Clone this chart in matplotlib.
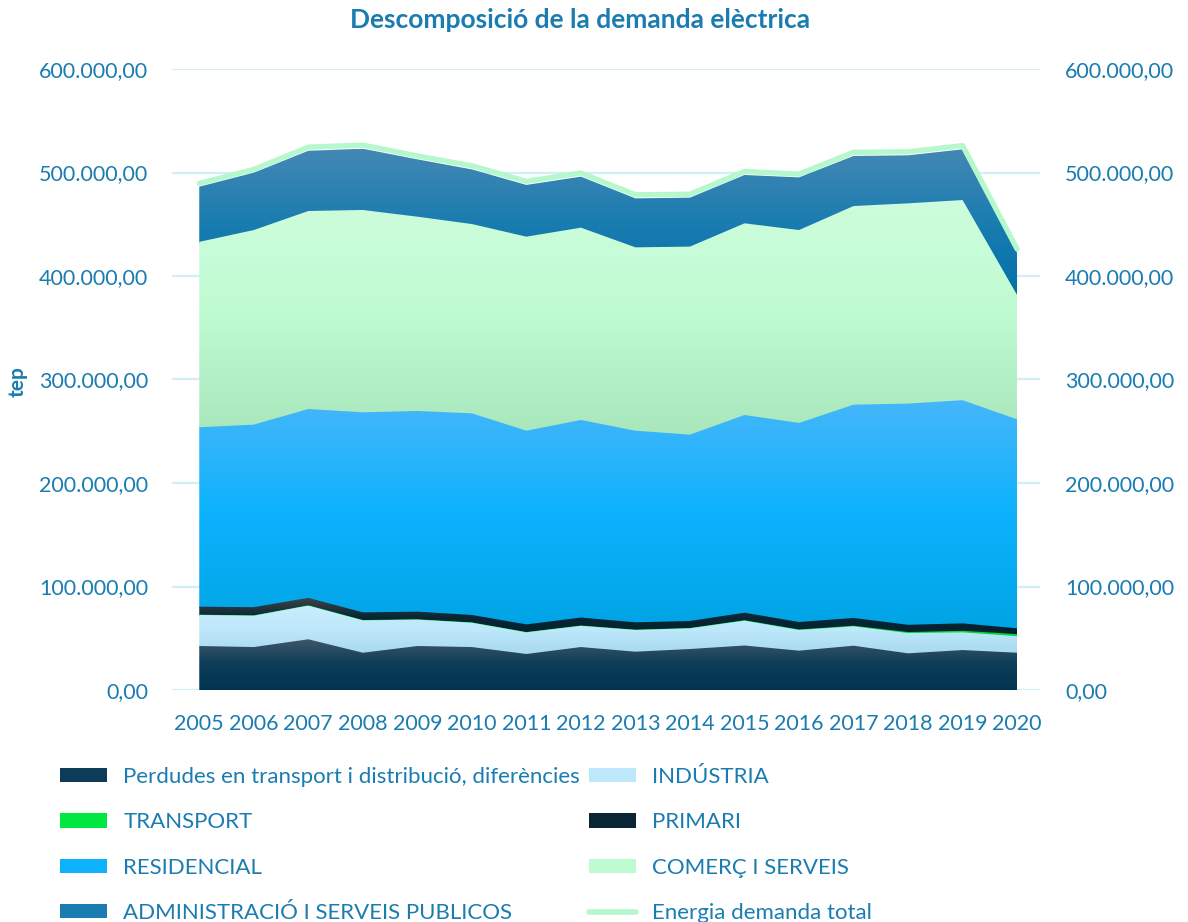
import numpy as np
import matplotlib
matplotlib.use("Agg")
import matplotlib.pyplot as plt
from matplotlib.colors import LinearSegmentedColormap
from matplotlib.patches import Patch
from matplotlib.lines import Line2D
from matplotlib.ticker import FuncFormatter

plt.rcParams['font.family'] = ['Lato', 'DejaVu Sans']

# ---------------------------------------------------------------------------
# data (tep)
years = [2005, 2006, 2007, 2008, 2009, 2010, 2011, 2012,
         2013, 2014, 2015, 2016, 2017, 2018, 2019, 2020]
perdudes = [42500, 41500, 49000, 36000, 42500, 41500, 34800, 41500,
            37000, 39600, 43000, 38000, 42800, 35400, 38600, 36000]
industria = [30000, 30300, 32500, 31300, 25500, 23500, 20900, 20500,
             21000, 20000, 24000, 20000, 18700, 19600, 17100, 16000]
transport = [300, 300, 300, 300, 300, 300, 300, 300,
             300, 300, 400, 500, 600, 1000, 1500, 2000]
primari = [7700, 7900, 7200, 7400, 7400, 7200, 7400, 7700,
           7100, 6800, 7300, 7200, 7500, 7000, 7200, 5600]
residencial = [173300, 176400, 182500, 193300, 193900, 194800, 187100, 190900,
               185100, 180000, 191000, 192300, 206100, 213700, 215600, 201900]
comerc = [179200, 188000, 191300, 195500, 187700, 182900, 187500, 185800,
          177200, 181700, 185200, 186400, 191900, 193500, 193400, 120100]
administracio = [53300, 55400, 58200, 59200, 55400, 52800, 50000, 49300,
                 47300, 47300, 46700, 50900, 48400, 46400, 49000, 40900]
total = [489500, 503000, 524500, 526500, 516000, 506500, 491500, 499500,
         478500, 479000, 501000, 498500, 519500, 520000, 526000, 426000]

labels = ["Perdudes en transport i distribució, diferències", "INDÚSTRIA",
          "TRANSPORT", "PRIMARI", "RESIDENCIAL", "COMERÇ I SERVEIS",
          "ADMINISTRACIÓ I SERVEIS PUBLICOS"]
# gradient colours (top, middle, bottom) per layer
grads = [["#3e566a", "#0c3c58", "#003550"],
         ["#c8eefd", "#bde7fa", "#a6d8ec"],
         ["#18f050", "#00e840", "#00d838"],
         ["#3c434b", "#0a2634", "#00202e"],
         ["#46b6fa", "#0cb2fd", "#00a4e4"],
         ["#cdfddc", "#bffbd2", "#a8e6bc"],
         ["#4488b4", "#1a7cb0", "#0070a8"]]
total_color = "#b4f8cc"
text_color = "#1a7cb0"
grid_color = "#d2eff9"

layers = [perdudes, industria, transport, primari, residencial, comerc, administracio]

# ---------------------------------------------------------------------------
fig = plt.figure(figsize=(11.88, 9.22), dpi=100)
ax = fig.add_axes([172 / 1188, 1 - 690 / 922, 868 / 1188, 621 / 922])

x = np.array(years, dtype=float)
tops = np.cumsum(np.array(layers, dtype=float), axis=0)
bots = np.vstack([np.zeros(len(x)), tops[:-1]])
n = len(layers)
overlap = 1500  # small overlap so no seams show between layers

for i in range(n):
    y0 = np.maximum(bots[i] - overlap, 0)
    y1 = tops[i]
    poly = ax.fill_between(x, y0, y1, color='none', lw=0)
    cmap = LinearSegmentedColormap.from_list('g%d' % i, grads[i][::-1])
    img = ax.imshow(np.linspace(0, 1, 256).reshape(-1, 1), cmap=cmap,
                    origin='lower', aspect='auto', interpolation='bilinear',
                    extent=(x[0], x[-1], y0.min(), y1.max()),
                    zorder=2 + (n - i) * 0.01)
    img.set_clip_path(poly.get_paths()[0], ax.transData)

ax.plot(x, total, color=total_color, lw=3.8, solid_capstyle='round', zorder=3)

ax.set_xlim(2004.5, 2020.42)
ax.set_ylim(0, 600000)
ax.set_yticks(np.arange(0, 600001, 100000))
ax.set_xticks(years)
fmt = FuncFormatter(lambda v, p: "{:,.2f}".format(v).replace(",", "X").replace(".", ",").replace("X", "."))
ax.yaxis.set_major_formatter(fmt)
ax.grid(axis='y', color=grid_color, lw=1.6, zorder=0)
ax.set_axisbelow(True)
for s in ax.spines.values():
    s.set_visible(False)
ax.tick_params(axis='both', length=0, labelsize=15.5, labelcolor=text_color)
ax.tick_params(axis='y', pad=17)
ax.tick_params(axis='x', pad=17)

ax2 = ax.twinx()
ax2.set_ylim(ax.get_ylim())
ax2.set_yticks(np.arange(0, 600001, 100000))
ax2.yaxis.set_major_formatter(fmt)
for s in ax2.spines.values():
    s.set_visible(False)
ax2.tick_params(axis='y', length=0, labelsize=15.5, labelcolor=text_color, pad=18)

fig.text(18 / 1188, 1 - 382 / 922, "tep", rotation=90, ha='center', va='center',
         fontsize=15, fontweight='bold', color=text_color)
fig.text(580 / 1188, 1 - 20 / 922, "Descomposició de la demanda elèctrica",
         ha='center', va='center', fontsize=19, fontweight='bold', color=text_color)

# legend, 2 columns filled row by row like the original
h = [Patch(facecolor=g[1], edgecolor='none') for g in grads]
h_total = Line2D([0], [0], color=total_color, lw=4, solid_capstyle='round')
order_h = [h[0], h[2], h[4], h[6], h[1], h[3], h[5], h_total]
order_l = [labels[0], labels[2], labels[4], labels[6], labels[1], labels[3], labels[5],
           "Energia demanda total"]
leg = fig.legend(order_h, order_l, ncol=2, loc='upper left',
                 bbox_to_anchor=(60 / 1188, 1 - 767 / 922), frameon=False,
                 fontsize=16, handlelength=2.1, handleheight=0.6,
                 handletextpad=0.75, labelspacing=1.14, columnspacing=0.4,
                 borderpad=0, borderaxespad=0)
for t in leg.get_texts():
    t.set_color(text_color)

fig.savefig("out.png", dpi=100)
